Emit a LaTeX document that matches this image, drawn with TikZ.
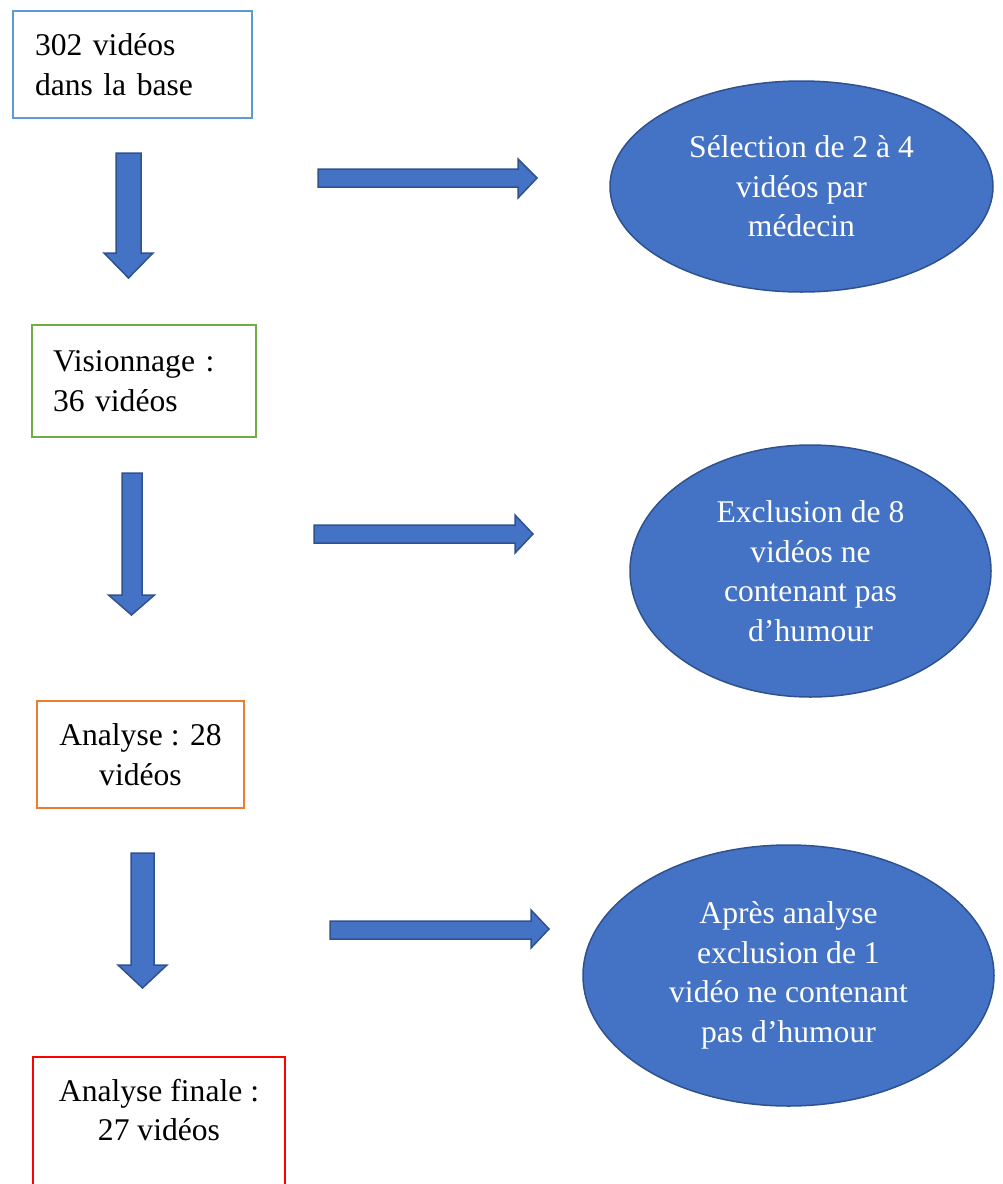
\documentclass[tikz,border=0pt]{standalone}
\usepackage{fontspec}
\setmainfont{Liberation Serif}
\usetikzlibrary{shapes.geometric}
\definecolor{fillblue}{HTML}{4472C4}
\definecolor{edgeblue}{HTML}{2F528F}
\definecolor{boxblue}{HTML}{5B9BD5}
\definecolor{boxgreen}{HTML}{70AD47}
\definecolor{boxorange}{HTML}{ED7D31}
\definecolor{boxred}{HTML}{FF0000}
\begin{document}
\begin{tikzpicture}[x=1pt,y=-1pt,
  txt/.style={font=\fontsize{31.6}{39.5}\selectfont},
  box/.style={txt, rectangle, line width=2.2pt, inner ysep=0pt},
  leftbox/.style={box, align=left, inner xsep=22pt},
  centerbox/.style={box, align=center, inner xsep=0pt},
  oval/.style={txt, ellipse, fill=fillblue, draw=edgeblue, line width=1.5pt,
    text=white, align=center, inner sep=0pt},
  blockarrow/.style={fill=fillblue, draw=edgeblue, line width=1.5pt, line join=miter}]
\useasboundingbox (0,0) rectangle (1003,1184);
\clip (0,0) rectangle (1003,1184);

% boxes
\node[leftbox, draw=boxblue, text width=195pt, minimum width=239pt, minimum height=107pt]
  (b1) at (132.5,64.5) {302 vidéos\\dans la base};
\node[leftbox, draw=boxgreen, inner xsep=21pt, text width=182pt, minimum width=224pt, minimum height=112pt]
  (b2) at (144,381) {Visionnage :\\36 vidéos};
\node[centerbox, draw=boxorange, minimum width=207pt, minimum height=107pt]
  (b3) at (140.5,754.5) {Analyse : 28\\vidéos};
\node[centerbox, draw=boxred, minimum width=252pt, minimum height=157pt]
  (b4) at (159,1135.5) {Analyse finale :\\27 vidéos\\\strut};

% ellipses
\node[oval, minimum width=383pt, minimum height=211pt]
  (e1) at (801.5,186.5) {Sélection de 2 à 4\\vidéos par\\médecin};
\node[oval, minimum width=361pt, minimum height=252pt]
  (e2) at (810.5,571) {Exclusion de 8\\vidéos ne\\contenant pas\\d’humour};
\node[oval, minimum width=411pt, minimum height=261pt]
  (e3) at (788.5,975.5) {Après analyse\\exclusion de 1\\vidéo ne contenant\\pas d’humour};

% down block arrows
\draw[blockarrow] (116,153) -- (141,153) -- (141,253) -- (153,253) -- (128.5,278)
  -- (104,253) -- (116,253) -- cycle;
\draw[blockarrow] (122,473) -- (142,473) -- (142,595) -- (154.5,595) -- (131.5,615)
  -- (108.5,595) -- (122,595) -- cycle;
\draw[blockarrow] (131,853) -- (154,853) -- (154,965) -- (167,965) -- (142.5,988)
  -- (118,965) -- (131,965) -- cycle;

% right block arrows
\draw[blockarrow] (318,169) -- (518,169) -- (518,159) -- (537,178) -- (518,198)
  -- (518,187) -- (318,187) -- cycle;
\draw[blockarrow] (314,525) -- (515,525) -- (515,515) -- (533,534) -- (515,553)
  -- (515,543) -- (314,543) -- cycle;
\draw[blockarrow] (330,921) -- (531,921) -- (531,910) -- (549,929) -- (531,948)
  -- (531,939) -- (330,939) -- cycle;
\end{tikzpicture}
\end{document}
